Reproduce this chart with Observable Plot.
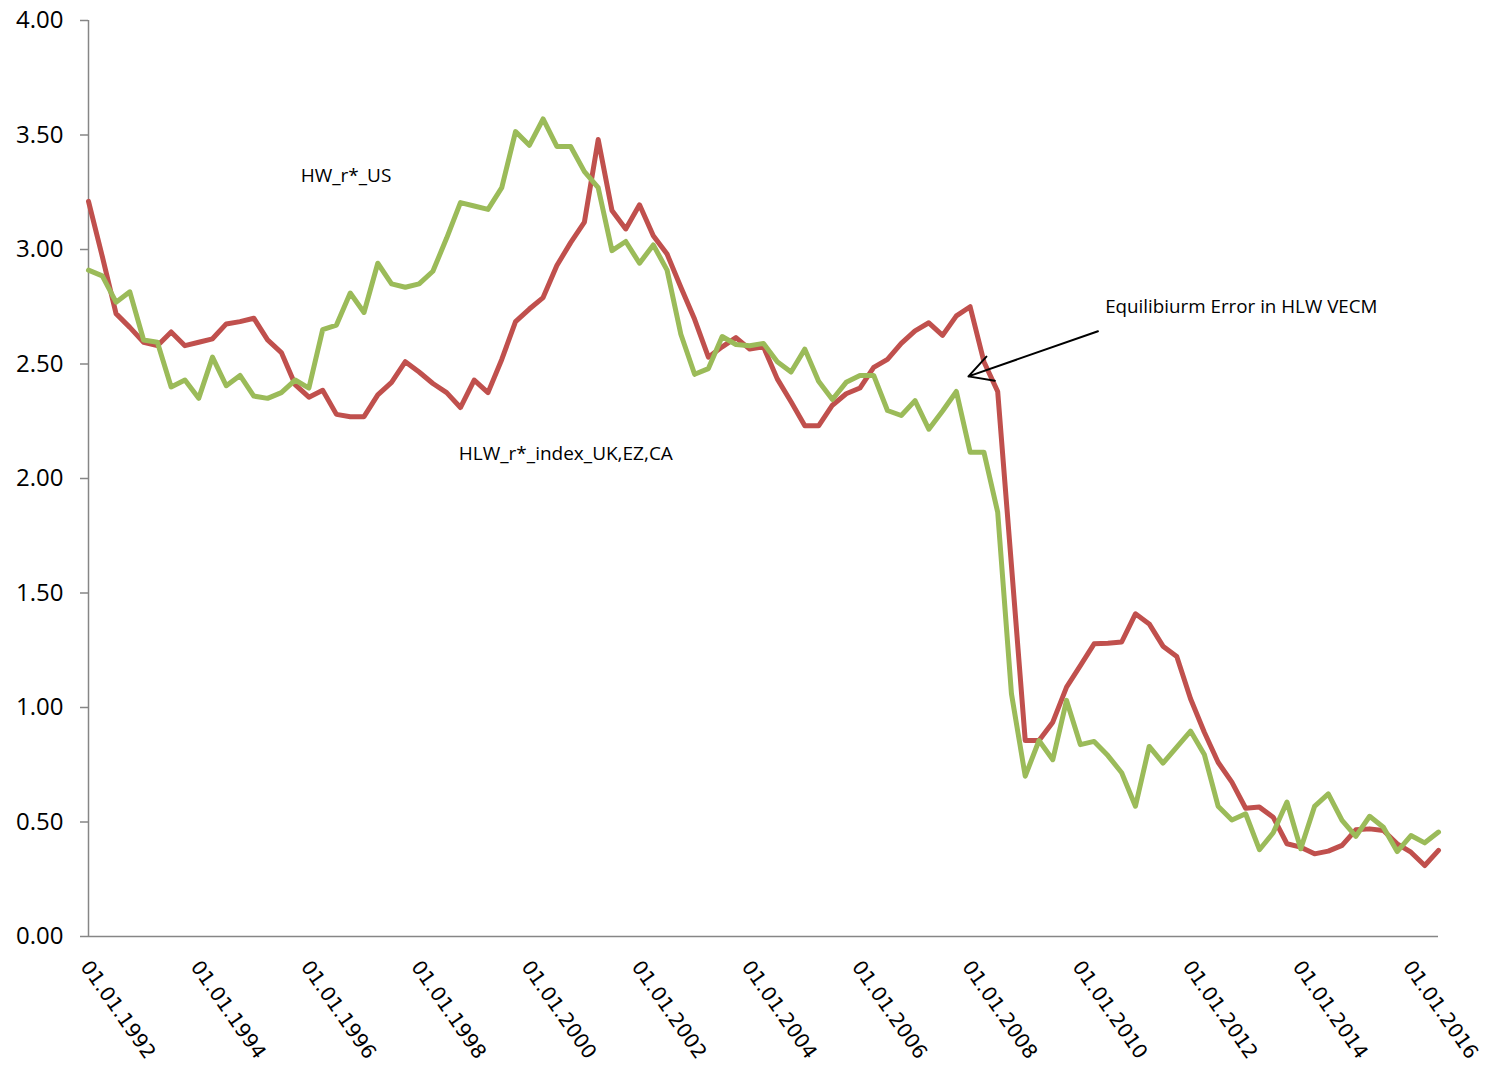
<!DOCTYPE html>
<html>
<head>
<meta charset="utf-8">
<script src="https://cdn.jsdelivr.net/npm/d3@7"></script>
<script src="https://cdn.jsdelivr.net/npm/@observablehq/plot@0.6"></script>
<style>
  html, body { margin: 0; padding: 0; background: #ffffff; }
  #chart { width: 1493px; height: 1071px; }
</style>
</head>
<body>
<div id="chart"></div>
<script>
// Quarterly categories (Excel-style dates)
const quarters = [
  "01.01.1992","01.04.1992","01.07.1992","01.10.1992",
  "01.01.1993","01.04.1993","01.07.1993","01.10.1993",
  "01.01.1994","01.04.1994","01.07.1994","01.10.1994",
  "01.01.1995","01.04.1995","01.07.1995","01.10.1995",
  "01.01.1996","01.04.1996","01.07.1996","01.10.1996",
  "01.01.1997","01.04.1997","01.07.1997","01.10.1997",
  "01.01.1998","01.04.1998","01.07.1998","01.10.1998",
  "01.01.1999","01.04.1999","01.07.1999","01.10.1999",
  "01.01.2000","01.04.2000","01.07.2000","01.10.2000",
  "01.01.2001","01.04.2001","01.07.2001","01.10.2001",
  "01.01.2002","01.04.2002","01.07.2002","01.10.2002",
  "01.01.2003","01.04.2003","01.07.2003","01.10.2003",
  "01.01.2004","01.04.2004","01.07.2004","01.10.2004",
  "01.01.2005","01.04.2005","01.07.2005","01.10.2005",
  "01.01.2006","01.04.2006","01.07.2006","01.10.2006",
  "01.01.2007","01.04.2007","01.07.2007","01.10.2007",
  "01.01.2008","01.04.2008","01.07.2008","01.10.2008",
  "01.01.2009","01.04.2009","01.07.2009","01.10.2009",
  "01.01.2010","01.04.2010","01.07.2010","01.10.2010",
  "01.01.2011","01.04.2011","01.07.2011","01.10.2011",
  "01.01.2012","01.04.2012","01.07.2012","01.10.2012",
  "01.01.2013","01.04.2013","01.07.2013","01.10.2013",
  "01.01.2014","01.04.2014","01.07.2014","01.10.2014",
  "01.01.2015","01.04.2015","01.07.2015","01.10.2015",
  "01.01.2016","01.04.2016","01.07.2016"
];

// Series names
const redName = "HLW_r*_index_UK,EZ,CA";
const greenName = "HW_r*_US";

// Red series values
const redValues = [
  3.21, 2.97, 2.72, 2.66,
  2.595, 2.58, 2.64, 2.58,
  2.595, 2.61, 2.675, 2.685,
  2.70, 2.605, 2.55, 2.41,
  2.355, 2.385, 2.28, 2.27,
  2.27, 2.365, 2.42, 2.51,
  2.465, 2.415, 2.375, 2.31,
  2.43, 2.375, 2.52, 2.685,
  2.74, 2.79, 2.93, 3.03,
  3.12, 3.48, 3.17, 3.09,
  3.195, 3.06, 2.98, 2.835,
  2.695, 2.53, 2.575, 2.615,
  2.565, 2.575, 2.435, 2.335,
  2.23, 2.23, 2.32, 2.37,
  2.395, 2.485, 2.52, 2.59,
  2.645, 2.68, 2.625, 2.71,
  2.75, 2.51, 2.38, 1.62,
  0.856, 0.856, 0.936, 1.089,
  1.183, 1.278, 1.281, 1.286,
  1.409, 1.365, 1.268, 1.223,
  1.038, 0.892, 0.761, 0.674,
  0.560, 0.565, 0.521, 0.405,
  0.390, 0.361, 0.373, 0.398,
  0.466, 0.470, 0.463, 0.405,
  0.368, 0.310, 0.376
];

// Green series values
const greenValues = [
  2.91, 2.885, 2.77, 2.815,
  2.605, 2.595, 2.40, 2.43,
  2.35, 2.53, 2.405, 2.45,
  2.36, 2.35, 2.375, 2.43,
  2.395, 2.65, 2.67, 2.81,
  2.725, 2.94, 2.85, 2.835,
  2.85, 2.905, 3.05, 3.205,
  3.19, 3.175, 3.27, 3.515,
  3.455, 3.57, 3.45, 3.45,
  3.34, 3.27, 2.995, 3.035,
  2.94, 3.02, 2.91, 2.63,
  2.455, 2.48, 2.62, 2.585,
  2.58, 2.59, 2.51, 2.465,
  2.565, 2.425, 2.345, 2.42,
  2.45, 2.45, 2.297, 2.275,
  2.34, 2.215, 2.295, 2.38,
  2.115, 2.115, 1.853, 1.06,
  0.70, 0.856, 0.772, 1.031,
  0.838, 0.852, 0.790, 0.715,
  0.569, 0.830, 0.757, 0.827,
  0.897, 0.795, 0.569, 0.509,
  0.536, 0.379, 0.453, 0.587,
  0.383, 0.568, 0.623, 0.507,
  0.437, 0.525, 0.477, 0.371,
  0.441, 0.409, 0.456
];

// Axis ticks
const yTicks = [0, 0.5, 1, 1.5, 2, 2.5, 3, 3.5, 4];
const xTickYears = [1992, 1994, 1996, 1998, 2000, 2002, 2004, 2006, 2008, 2010, 2012, 2014, 2016];

// In-chart labels (position in decimal years / value units)
const seriesLabels = [
  {text: greenName, t: 1995.85, v: 3.323},
  {text: redName, t: 1998.72, v: 2.109}
];
const noteLabel = [{text: "Equilibiurm Error in HLW VECM", t: 2010.45, v: 2.747}];
const noteArrow = [{t1: 2010.32, v1: 2.643, t2: 2007.97, v2: 2.446}];

// Build table
function decimalYear(s) {
  const [dd, mm, yyyy] = s.split(".").map(Number);
  return yyyy + (mm - 1) / 12;
}
const rows = quarters.map((q, i) => ({t: decimalYear(q), red: redValues[i], green: greenValues[i]}));
const xMin = rows[0].t, xMax = rows[rows.length - 1].t;

const axisColor = "#868686";
const textFont = "'Open Sans', 'Noto Sans', sans-serif";

const chart = Plot.plot({
  width: 1493,
  height: 1071,
  marginLeft: 88,
  marginRight: 55,
  marginTop: 20,
  marginBottom: 135,
  style: {background: "#ffffff", fontFamily: textFont, color: "#000"},
  x: {type: "linear", domain: [xMin, xMax], axis: null},
  y: {type: "linear", domain: [0, 4], axis: null},
  marks: [
    // axes lines
    Plot.ruleX([xMin], {y1: 0, y2: 4, stroke: axisColor, strokeWidth: 1.5}),
    Plot.ruleY([0], {x1: xMin, x2: xMax, stroke: axisColor, strokeWidth: 1.5}),
    // y axis ticks + labels
    Plot.axisY({
      ticks: yTicks, tickFormat: d3.format(".2f"), tickSize: 8, tickPadding: 17,
      stroke: axisColor, strokeWidth: 1.5, fontSize: 24, fontFamily: textFont, fill: "#000"
    }),
    // x tick labels (rotated)
    Plot.text(xTickYears, {
      x: d => d, frameAnchor: "bottom", dy: 22, dx: 3,
      text: d => "01.01." + d, rotate: 55, textAnchor: "start", lineAnchor: "top",
      fontSize: 20, fontFamily: "'DejaVu Sans', sans-serif", fill: "#000"
    }),
    // series
    Plot.line(rows, {x: "t", y: "red", stroke: "#C0504D", strokeWidth: 5, strokeLinejoin: "round", strokeLinecap: "round"}),
    Plot.line(rows, {x: "t", y: "green", stroke: "#9BBB59", strokeWidth: 5, strokeLinejoin: "round", strokeLinecap: "round"}),
    // labels
    Plot.text(seriesLabels, {x: "t", y: "v", text: "text", textAnchor: "start", fontSize: 19, fontFamily: textFont, fill: "#000"}),
    Plot.text(noteLabel, {x: "t", y: "v", text: "text", textAnchor: "start", fontSize: 18.8, fontFamily: textFont, fill: "#000"}),
    Plot.arrow(noteArrow, {x1: "t1", y1: "v1", x2: "t2", y2: "v2", stroke: "#000", strokeWidth: 2, headLength: 20, headAngle: 57})
  ]
});

document.getElementById("chart").appendChild(chart);
</script>
</body>
</html>
